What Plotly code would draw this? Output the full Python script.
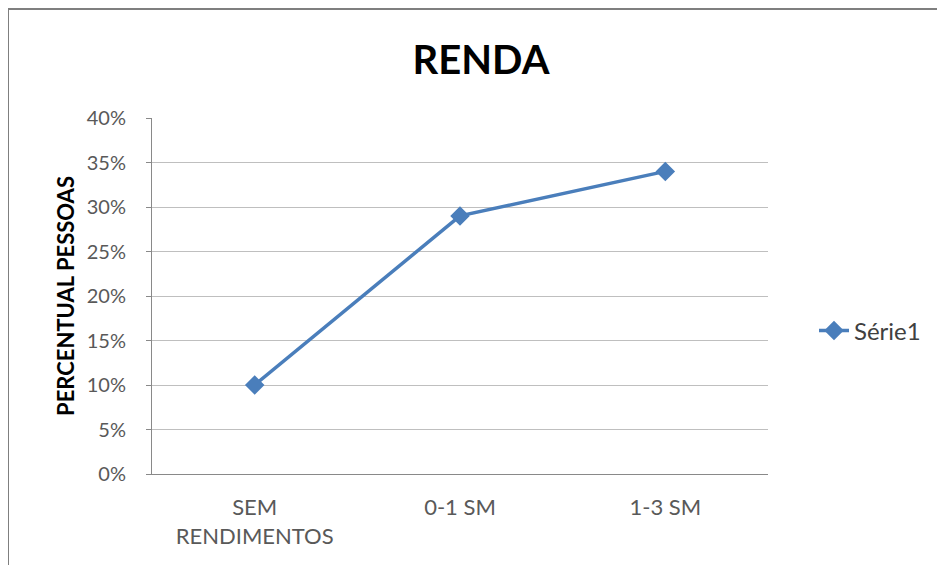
import plotly.graph_objects as go

categories = ["SEM<br>RENDIMENTOS", "0-1 SM", "1-3 SM"]
values = [0.10, 0.29, 0.34]
series_name = "Série1"
y_ticks = [0, 0.05, 0.10, 0.15, 0.20, 0.25, 0.30, 0.35, 0.40]
y_tick_labels = ["0%", "5%", "10%", "15%", "20%", "25%", "30%", "35%", "40%"]

FONT = "Lato, 'Open Sans', sans-serif"
BLUE = "#4A7EBB"

L, T, W, H = 144, 110, 616, 356

fig = go.Figure()
fig.add_trace(go.Scatter(
    x=categories, y=values, name=series_name, mode="lines+markers",
    line=dict(color=BLUE, width=3.5),
    marker=dict(symbol="diamond", size=15, color=BLUE),
))

fig.update_layout(
    width=945, height=565,
    margin=dict(l=L, r=945 - L - W, t=T, b=565 - T - H),
    paper_bgcolor="white", plot_bgcolor="white",
    font=dict(family=FONT, color="#595959", size=20),
    title=dict(text="<b>RENDA</b>", x=(473 - L) / W, xref="paper", xanchor="center",
               y=1 - 52 / 565, yanchor="middle",
               font=dict(size=40, color="#000000", family=FONT)),
    showlegend=True,
    legend=dict(x=(806 - L) / W, y=(T + H - 323) / H, xanchor="left", yanchor="middle",
                font=dict(size=24, color="#404040", family=FONT),
                bgcolor="rgba(0,0,0,0)"),
    xaxis=dict(showgrid=False, showline=True, linecolor="#898989", linewidth=1,
               ticks="", tickfont=dict(size=22, color="#595959"),
               ticklabelstandoff=14, range=[-0.5, 2.5]),
    yaxis=dict(range=[0, 0.40], tickvals=y_ticks, ticktext=y_tick_labels,
               showgrid=True, gridcolor="#BFBFBF", gridwidth=1,
               showline=True, linecolor="#898989", linewidth=1,
               ticks="outside", ticklen=5, tickcolor="#898989",
               ticklabelstandoff=16,
               zeroline=False, tickfont=dict(size=20, color="#595959"),
               title=dict(text="<b>PERCENTUAL PESSOAS</b>", standoff=6,
                          font=dict(size=22, color="#000000", family=FONT))),
    shapes=[dict(type="rect", xref="paper", yref="paper",
                 x0=(0 - L) / W, x1=(935 - L) / W,
                 y0=(T + H - 570) / H, y1=(T + H - 1) / H,
                 line=dict(color="#7F7F7F", width=2), fillcolor="rgba(0,0,0,0)",
                 layer="below")],
)

fig.write_html("out.html")
